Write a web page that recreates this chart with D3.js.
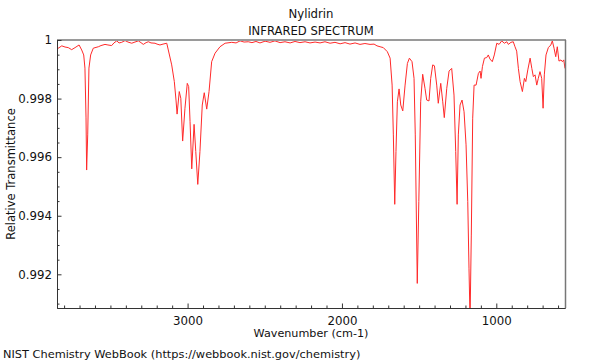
<!DOCTYPE html>
<html><head><meta charset="utf-8">
<script src="https://cdn.jsdelivr.net/npm/d3@7"></script>
<style>
body{margin:0;background:#fff}
svg{display:block}
text{font-family:"DejaVu Sans",sans-serif}
</style>
</head><body>
<svg id="chart" width="600" height="360"></svg>
<script>
const titleLines = ["Nylidrin", "INFRARED SPECTRUM"];
const xLabel = "Wavenumber (cm-1)";
const yLabel = "Relative Transmittance";
const footer = "NIST Chemistry WebBook (https://webbook.nist.gov/chemistry)";

const xTickValues = [3000, 2000, 1000];
const xTickLabels = ["3000", "2000", "1000"];
const yTickValues = [1, 0.998, 0.996, 0.994, 0.992];
const yTickLabels = ["1", "0.998", "0.996", "0.994", "0.992"];
const xDomain = [3846, 555];
const yDomain = [0.99085, 1.0];

const wavenumbers = [
3846,3815,3794,3773,3751,3729,3703,3686,3673,3665,3658,3654,3647,3639,3628,3611,3578,3561,3535,3516,
3492,3477,3459,3444,3427,3405,3386,3362,3341,3319,3302,3287,3269,3254,3237,3211,3198,3179,3159,3135,
3125,3103,3086,3075,3068,3054,3044,3032,3017,3002,2993,2984,2973,2958,2947,2934,2920,2905,2892,2876,
2861,2844,2822,2790,2757,2714,2686,2660,2634,2607,
2583,2557,2531,2498,2466,2434,2401,2369,2336,2304,2272,2239,2207,2174,2142,2110,2077,2045,2012,1980,
1948,1915,1883,1851,1818,1792,1773,1753,1732,1706,1688,1675,1667,1658,1650,1641,1630,1619,1606,1591,
1576,1563,1546,1533,1525,1512,1502,1490,1477,1462,1451,1436,1425,1412,1401,1386,1376,1360,1347,1337,
1321,1306,1289,1274,1263,1254,1246,1235,1222,1209,1196,1185,1177,1170,1162,1153,1144,1131,1116,1105,
1099,1090,1077,1062,1052,1041,1026,1013,997,982,965,948,932,922,905,890,879,868,857,846,
831,818,809,796,781,770,760,749,738,728,717,706,697,689,678,663,647,637,626,615,
605,594,581,572,563,555
];
const transmittance = [
0.99969,0.99980,0.99976,0.99974,0.99967,0.99974,0.99983,0.99966,0.99949,0.99904,0.99734,0.99556,0.99676,0.99904,0.99949,0.99972,0.99977,0.99981,0.99985,0.99983,
0.99981,0.99990,0.99997,0.99990,0.99992,0.99998,0.99993,0.99989,0.99993,0.99997,0.99991,0.99985,0.99991,0.99994,0.99990,0.99989,0.99986,0.99983,0.99986,0.99989,
0.99966,0.99915,0.99858,0.99795,0.99747,0.99824,0.99801,0.99655,0.99767,0.99852,0.99841,0.99721,0.99560,0.99712,0.99619,0.99507,0.99619,0.99778,0.99820,0.99764,
0.99824,0.99926,0.99955,0.99977,0.99989,0.99992,0.99990,0.99997,0.99993,0.99994,
0.99991,0.99995,0.99990,0.99996,0.99992,0.99997,0.99991,0.99994,0.99990,0.99995,0.99991,0.99994,0.99990,0.99993,0.99990,0.99994,0.99989,0.99992,0.99987,0.99991,
0.99986,0.99990,0.99985,0.99988,0.99985,0.99986,0.99980,0.99977,0.99974,0.99960,0.99938,0.99846,0.99676,0.99439,0.99619,0.99789,0.99833,0.99778,0.99758,0.99846,
0.99920,0.99938,0.99926,0.99869,0.99676,0.99169,0.99448,0.99789,0.99883,0.99835,0.99795,0.99792,0.99869,0.99915,0.99912,0.99846,0.99784,0.99852,0.99789,0.99735,
0.99835,0.99894,0.99903,0.99812,0.99619,0.99439,0.99676,0.99778,0.99795,0.99755,0.99642,0.99448,0.99221,0.99044,0.99334,0.99733,0.99846,0.99846,0.99886,0.99894,
0.99869,0.99909,0.99938,0.99940,0.99949,0.99935,0.99926,0.99949,0.99989,0.99985,0.99997,0.99989,0.99994,0.99985,0.99992,0.99994,0.99977,0.99962,0.99903,0.99858,
0.99824,0.99869,0.99858,0.99898,0.99938,0.99903,0.99875,0.99881,0.99846,0.99869,0.99892,0.99869,0.99767,0.99881,0.99949,0.99974,0.99983,0.99997,0.99972,0.99943,
0.99977,0.99928,0.99932,0.99926,0.99932,0.99903
];

const plot = {left: 57, right: 565, top: 40, bottom: 308};
const svg = d3.select("#chart");

const x = d3.scaleLinear().domain(xDomain).range([plot.left, plot.right]);
const y = d3.scaleLinear().domain(yDomain).range([plot.bottom, plot.top]);

svg.append("defs").append("clipPath").attr("id", "clip")
  .append("rect").attr("x", plot.left).attr("y", plot.top)
  .attr("width", plot.right - plot.left).attr("height", plot.bottom - plot.top);

// data line
const pts = wavenumbers.map((w, i) => [w, transmittance[i]]);
const line = d3.line().x(d => x(d[0])).y(d => y(d[1]));
svg.append("path").datum(pts)
  .attr("clip-path", "url(#clip)")
  .attr("d", line)
  .attr("fill", "none")
  .attr("stroke", "#ff2a2a")
  .attr("stroke-width", 1);

// frame top/right
svg.append("line").attr("x1", plot.left).attr("x2", plot.right + 1)
  .attr("y1", plot.top).attr("y2", plot.top)
  .attr("stroke", "#9a9a9a").attr("stroke-width", 2);
svg.append("line").attr("x1", plot.right + 0.5).attr("x2", plot.right + 0.5)
  .attr("y1", plot.top).attr("y2", plot.bottom)
  .attr("stroke", "#777").attr("stroke-width", 1.5);

// x axis minor
const xMinor = d3.range(600, 3900, 100).filter(v => !xTickValues.includes(v));
svg.append("g").attr("transform", `translate(0,${plot.bottom})`)
  .call(d3.axisBottom(x).tickValues(xMinor).tickSize(-2.5).tickSizeOuter(0).tickFormat(""))
  .call(g => g.selectAll("line").attr("stroke", "#333"))
  .call(g => g.select(".domain").attr("stroke", "#333"));
svg.append("g").attr("transform", `translate(0,${plot.bottom})`)
  .call(d3.axisBottom(x).tickValues(xTickValues).tickSize(-4.5).tickSizeOuter(0)
    .tickPadding(8.5).tickFormat((d, i) => xTickLabels[i]))
  .call(g => g.select(".domain").attr("stroke", "#333"))
  .call(g => g.selectAll("line").attr("stroke", "#333"))
  .call(g => g.selectAll("text").attr("font-size", 11.8).attr("fill", "#111")
    .attr("font-family", "DejaVu Sans"));

// y axis minor
const yMinor = d3.range(0, 19).map(i => +(0.991 + i * 0.0005).toFixed(4))
  .filter(v => !yTickValues.some(t => Math.abs(t - v) < 1e-7) && v <= 1);
svg.append("g").attr("transform", `translate(${plot.left},0)`)
  .call(d3.axisLeft(y).tickValues(yMinor).tickSize(-2.5).tickSizeOuter(0).tickFormat(""))
  .call(g => g.selectAll("line").attr("stroke", "#333"))
  .call(g => g.select(".domain").attr("stroke", "#333"));
svg.append("g").attr("transform", `translate(${plot.left},0)`)
  .call(d3.axisLeft(y).tickValues(yTickValues).tickSize(-4.5).tickSizeOuter(0)
    .tickPadding(5).tickFormat((d, i) => yTickLabels[i]))
  .call(g => g.select(".domain").attr("stroke", "#333"))
  .call(g => g.selectAll("line").attr("stroke", "#333"))
  .call(g => g.selectAll("text").attr("font-size", 11.8).attr("fill", "#111")
    .attr("font-family", "DejaVu Sans"));

const cx = (plot.left + plot.right) / 2;
svg.append("text").attr("x", cx).attr("y", 17.5).attr("text-anchor", "middle")
  .attr("font-size", 11.7).attr("fill", "#111").text(titleLines[0]);
svg.append("text").attr("x", cx).attr("y", 34.5).attr("text-anchor", "middle")
  .attr("font-size", 11.6).attr("fill", "#111").text(titleLines[1]);
svg.append("text").attr("x", cx).attr("y", 337).attr("text-anchor", "middle")
  .attr("font-size", 11.2).attr("fill", "#111").text(xLabel);
svg.append("text").attr("transform", `translate(14.5,${(plot.top + plot.bottom) / 2}) rotate(-90)`)
  .attr("text-anchor", "middle").attr("font-size", 11.5).attr("fill", "#111").text(yLabel);
svg.append("text").attr("x", 3).attr("y", 357.5)
  .attr("font-size", 11.35).attr("fill", "#111").text(footer);
</script>
</body></html>
